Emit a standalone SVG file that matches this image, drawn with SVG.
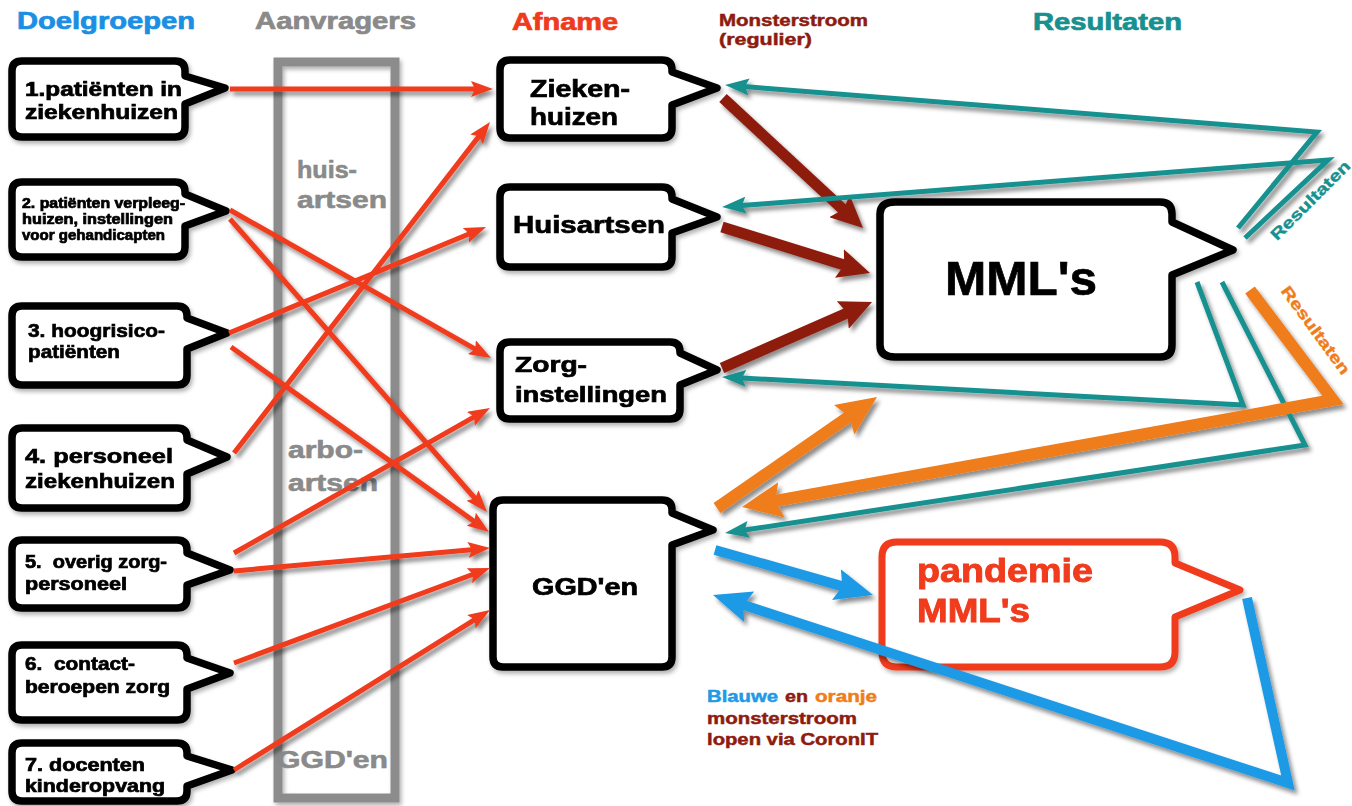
<svg xmlns="http://www.w3.org/2000/svg" width="1352" height="806" viewBox="0 0 1352 806">
<style>
text{font-family:"Liberation Sans",Arial,sans-serif;font-weight:bold}
.node{fill:#fff;stroke:#000;stroke-width:7.5;stroke-linejoin:round}
.nt{fill:#000;stroke:#000;stroke-width:0.7}
.hd{font-size:23px;stroke-width:0.7}
.gr{fill:#8a8a8a;stroke:#8a8a8a;stroke-width:0.6}
.red{stroke:#f03a1c;stroke-width:5;fill:none}
.dred{stroke:#8e1b10;stroke-width:11;fill:none}
.teal{stroke:#17918f;stroke-width:5;fill:none;stroke-linejoin:miter}
.orng{stroke:#ef7d1b;stroke-width:12;fill:none}
.blue{stroke:#1f9ae6;stroke-width:10;fill:none}
</style>
<defs>
<filter id="sh" filterUnits="userSpaceOnUse" x="0" y="0" width="1352" height="806">
<feDropShadow dx="3" dy="4" stdDeviation="2" flood-color="#000" flood-opacity="0.45"/>
</filter>
<filter id="sh2" filterUnits="userSpaceOnUse" x="0" y="0" width="1352" height="806">
<feDropShadow dx="2" dy="3" stdDeviation="2" flood-color="#000" flood-opacity="0.3"/>
</filter>
<marker id="aRed" markerUnits="userSpaceOnUse" viewBox="0 0 22 16" markerWidth="22" markerHeight="16" refX="12" refY="8" orient="auto"><path d="M0,0 L22,8 L0,16 L4,8 Z" fill="#f03a1c"/></marker>
<marker id="aTeal" markerUnits="userSpaceOnUse" viewBox="0 0 24 17" markerWidth="24" markerHeight="17" refX="14" refY="8.5" orient="auto"><path d="M0,0 L24,8.5 L0,17 L4,8.5 Z" fill="#17918f"/></marker>
<marker id="aDred" markerUnits="userSpaceOnUse" viewBox="0 0 32 30" markerWidth="32" markerHeight="30" refX="16" refY="15" orient="auto"><path d="M0,0 L32,15 L0,30 L5,15 Z" fill="#8e1b10"/></marker>
<marker id="aOrng" markerUnits="userSpaceOnUse" viewBox="0 0 40 36" markerWidth="40" markerHeight="36" refX="20" refY="18" orient="auto"><path d="M0,0 L40,18 L0,36 L6,18 Z" fill="#ef7d1b"/></marker>
<marker id="aBlue" markerUnits="userSpaceOnUse" viewBox="0 0 38 32" markerWidth="38" markerHeight="32" refX="20" refY="16" orient="auto"><path d="M0,0 L38,16 L0,32 L6,16 Z" fill="#1f9ae6"/></marker>
</defs>
<rect width="1352" height="806" fill="#fff"/>

<g id="headers">
<text class="hd" x="17" y="29" fill="#1a8fe3" stroke="#1a8fe3" textLength="178" lengthAdjust="spacingAndGlyphs">Doelgroepen</text>
<text class="hd" x="255" y="29" fill="#8a8a8a" stroke="#8a8a8a" textLength="161" lengthAdjust="spacingAndGlyphs">Aanvragers</text>
<text class="hd" x="512" y="30" fill="#f03a1c" stroke="#f03a1c" textLength="106" lengthAdjust="spacingAndGlyphs">Afname</text>
<text x="719" y="26" font-size="17" fill="#8e1b10" stroke="#8e1b10" stroke-width="0.5" textLength="149" lengthAdjust="spacingAndGlyphs">Monsterstroom</text>
<text x="719" y="45" font-size="17" fill="#8e1b10" stroke="#8e1b10" stroke-width="0.5" textLength="93" lengthAdjust="spacingAndGlyphs">(regulier)</text>
<text class="hd" x="1033" y="30" fill="#17918f" stroke="#17918f" textLength="149" lengthAdjust="spacingAndGlyphs">Resultaten</text>
</g>

<g id="aanvragers">
<rect x="278" y="62" width="117" height="736" fill="none" stroke="#8c8c8c" stroke-width="9" filter="url(#sh2)"/>
<text class="gr" x="297" y="178" font-size="23" textLength="60" lengthAdjust="spacingAndGlyphs">huis-</text>
<text class="gr" x="297" y="208" font-size="23" textLength="90" lengthAdjust="spacingAndGlyphs">artsen</text>
<text class="gr" x="288" y="458" font-size="23" textLength="75" lengthAdjust="spacingAndGlyphs">arbo-</text>
<text class="gr" x="288" y="491" font-size="23" textLength="90" lengthAdjust="spacingAndGlyphs">artsen</text>
<text class="gr" x="277" y="768" font-size="23" textLength="111" lengthAdjust="spacingAndGlyphs">GGD'en</text>
</g>

<g id="doel1" filter="url(#sh2)">
<path class="node" d="M22,61 H175 Q185,61 185,71 V76 L225,88 L185,104 V127 Q185,137 175,137 H22 Q12,137 12,127 V71 Q12,61 22,61 Z"/>
<text class="nt" x="25" y="96" font-size="20" textLength="157" lengthAdjust="spacingAndGlyphs">1.patiënten in</text>
<text class="nt" x="25" y="119" font-size="20" textLength="153" lengthAdjust="spacingAndGlyphs">ziekenhuizen</text>
</g>
<g id="doel2" filter="url(#sh2)">
<path class="node" d="M22,182 H175 Q185,182 185,192 V194 L226,211 L185,226 V247 Q185,257 175,257 H22 Q12,257 12,247 V192 Q12,182 22,182 Z"/>
<text class="nt" x="22" y="208" font-size="14" stroke-width="0.4" textLength="163" lengthAdjust="spacingAndGlyphs">2. patiënten verpleeg-</text>
<text class="nt" x="22" y="224" font-size="14" stroke-width="0.4" textLength="151" lengthAdjust="spacingAndGlyphs">huizen, instellingen</text>
<text class="nt" x="22" y="240" font-size="14" stroke-width="0.4" textLength="143" lengthAdjust="spacingAndGlyphs">voor gehandicapten</text>
</g>
<g id="doel3" filter="url(#sh2)">
<path class="node" d="M22,306 H177 Q187,306 187,316 V318 L227,333 L187,349 V375 Q187,385 177,385 H22 Q12,385 12,375 V316 Q12,306 22,306 Z"/>
<text class="nt" x="28" y="337" font-size="19" textLength="137" lengthAdjust="spacingAndGlyphs">3. hoogrisico-</text>
<text class="nt" x="28" y="358" font-size="19" textLength="92" lengthAdjust="spacingAndGlyphs">patiënten</text>
</g>
<g id="doel4" filter="url(#sh2)">
<path class="node" d="M22,428 H177 Q187,428 187,438 V440 L227,457 L187,474 V498 Q187,508 177,508 H22 Q12,508 12,498 V438 Q12,428 22,428 Z"/>
<text class="nt" x="25" y="463" font-size="21" textLength="148" lengthAdjust="spacingAndGlyphs">4. personeel</text>
<text class="nt" x="25" y="488" font-size="21" textLength="150" lengthAdjust="spacingAndGlyphs">ziekenhuizen</text>
</g>
<g id="doel5" filter="url(#sh2)">
<path class="node" d="M22,540 H177 Q187,540 187,550 V553 L230,570 L187,585 V598 Q187,608 177,608 H22 Q12,608 12,598 V550 Q12,540 22,540 Z"/>
<text class="nt" x="25" y="568" font-size="18" xml:space="preserve" textLength="142" lengthAdjust="spacingAndGlyphs">5.  overig zorg-</text>
<text class="nt" x="25" y="590" font-size="18" textLength="102" lengthAdjust="spacingAndGlyphs">personeel</text>
</g>
<g id="doel6" filter="url(#sh2)">
<path class="node" d="M22,645 H177 Q187,645 187,655 V658 L230,673 L187,689 V710 Q187,720 177,720 H22 Q12,720 12,710 V655 Q12,645 22,645 Z"/>
<text class="nt" x="25" y="670" font-size="18" xml:space="preserve" textLength="110" lengthAdjust="spacingAndGlyphs">6.  contact-</text>
<text class="nt" x="25" y="693" font-size="18" textLength="145" lengthAdjust="spacingAndGlyphs">beroepen zorg</text>
</g>
<g id="doel7" filter="url(#sh2)">
<path class="node" d="M22,743 H177 Q187,743 187,753 V756 L232,770 L187,786 V791 Q187,801 177,801 H22 Q12,801 12,791 V753 Q12,743 22,743 Z"/>
<text class="nt" x="25" y="771" font-size="18" textLength="120" lengthAdjust="spacingAndGlyphs">7. docenten</text>
<text class="nt" x="25" y="792" font-size="18" textLength="140" lengthAdjust="spacingAndGlyphs">kinderopvang</text>
</g>

<g id="afname-ziekenhuizen" filter="url(#sh2)">
<path class="node" d="M510,60 H662 Q672,60 672,70 V72 L717,88 L672,105 V128 Q672,138 662,138 H510 Q500,138 500,128 V70 Q500,60 510,60 Z"/>
<text class="nt" x="530" y="97" font-size="23" textLength="100" lengthAdjust="spacingAndGlyphs">Zieken-</text>
<text class="nt" x="530" y="125" font-size="23" textLength="88" lengthAdjust="spacingAndGlyphs">huizen</text>
</g>
<g id="afname-huisartsen" filter="url(#sh2)">
<path class="node" d="M510,187 H662 Q672,187 672,197 V199 L717,217 L672,233 V257 Q672,267 662,267 H510 Q500,267 500,257 V197 Q500,187 510,187 Z"/>
<text class="nt" x="513" y="233" font-size="23" textLength="152" lengthAdjust="spacingAndGlyphs">Huisartsen</text>
</g>
<g id="afname-zorginstellingen" filter="url(#sh2)">
<path class="node" d="M510,342 H670 Q680,342 680,352 V353 L717,370 L680,385 V409 Q680,419 670,419 H510 Q500,419 500,409 V352 Q500,342 510,342 Z"/>
<text class="nt" x="515" y="372" font-size="22" textLength="72" lengthAdjust="spacingAndGlyphs">Zorg-</text>
<text class="nt" x="515" y="402" font-size="22" textLength="152" lengthAdjust="spacingAndGlyphs">instellingen</text>
</g>
<g id="afname-ggden" filter="url(#sh2)">
<path class="node" d="M503,500 H662 Q672,500 672,510 V513 L713,530 L672,545 V657 Q672,667 662,667 H503 Q493,667 493,657 V510 Q493,500 503,500 Z"/>
<text class="nt" x="532" y="595" font-size="23" textLength="106" lengthAdjust="spacingAndGlyphs">GGD'en</text>
</g>

<g id="mmls" filter="url(#sh2)">
<path class="node" stroke-width="8" d="M895,202 H1160 Q1172,202 1172,214 V222 L1233,250 L1172,275 V345 Q1172,357 1160,357 H895 Q880,357 880,345 V214 Q880,202 895,202 Z"/>
<text class="nt" x="945" y="295" font-size="48" stroke-width="1.4" textLength="152" lengthAdjust="spacingAndGlyphs">MML's</text>
</g>
<g id="pandemie-mmls" filter="url(#sh2)">
<path d="M897,542 H1160 Q1175,542 1175,557 V563 L1240,590 L1175,617 V652 Q1175,667 1160,667 H897 Q882,667 882,652 V557 Q882,542 897,542 Z" fill="#fff" stroke="#f03a1c" stroke-width="7" stroke-linejoin="round"/>
<text x="917" y="582" font-size="33" fill="#f03a1c" stroke="#f03a1c" stroke-width="0.9" textLength="176" lengthAdjust="spacingAndGlyphs">pandemie</text>
<text x="917" y="622" font-size="33" fill="#f03a1c" stroke="#f03a1c" stroke-width="0.9" textLength="113" lengthAdjust="spacingAndGlyphs">MML's</text>
</g>

<g id="connectors" filter="url(#sh)">
<line class="red" x1="230" y1="89" x2="483" y2="89" marker-end="url(#aRed)"/>
<line class="red" x1="230" y1="210" x2="482.3" y2="353.1" marker-end="url(#aRed)"/>
<line class="red" x1="230" y1="219" x2="480.4" y2="504.5" marker-end="url(#aRed)"/>
<line class="red" x1="229" y1="333" x2="476.8" y2="230.8" marker-end="url(#aRed)"/>
<line class="red" x1="231" y1="347" x2="480.9" y2="526.2" marker-end="url(#aRed)"/>
<line class="red" x1="234" y1="453" x2="483.9" y2="129.9" marker-end="url(#aRed)"/>
<line class="red" x1="234" y1="553" x2="481.3" y2="412.9" marker-end="url(#aRed)"/>
<line class="red" x1="234" y1="571" x2="480" y2="548.9" marker-end="url(#aRed)"/>
<line class="red" x1="234" y1="663" x2="480.6" y2="571.5" marker-end="url(#aRed)"/>
<line class="red" x1="234" y1="770" x2="481.5" y2="615.3" marker-end="url(#aRed)"/>

<line class="dred" x1="723" y1="98" x2="851.3" y2="217.1" marker-end="url(#aDred)"/>
<line class="dred" x1="722" y1="227" x2="854.7" y2="268.2" marker-end="url(#aDred)"/>
<line class="dred" x1="722" y1="368" x2="857.4" y2="308.5" marker-end="url(#aDred)"/>

<polyline class="teal" points="1238,228 1317,132 735,85.8" marker-end="url(#aTeal)"/>
<polyline class="teal" points="1245,238 1328,160 732,206.2" marker-end="url(#aTeal)"/>
<polyline class="teal" points="1197,282 1243,405 732,377.5" marker-end="url(#aTeal)"/>
<polyline class="teal" points="1222,282 1305,445 734.9,531.5" marker-end="url(#aTeal)"/>

<line class="orng" x1="717" y1="508" x2="860.6" y2="408.4" marker-end="url(#aOrng)"/>
<polyline class="orng" stroke-width="11" points="1250,290 1333,400 761.7,503.4" marker-end="url(#aOrng)"/>

<line class="blue" x1="715" y1="550" x2="855.7" y2="590.1" marker-end="url(#aBlue)"/>
<polyline class="blue" stroke-width="9" points="1247,598 1288,783 730.1,600.6" marker-end="url(#aBlue)"/>
</g>

<g id="labels">
<text x="1310" y="206" font-size="16" fill="#17918f" stroke="#17918f" stroke-width="0.4" text-anchor="middle" transform="rotate(-45 1310 200)" textLength="105" lengthAdjust="spacingAndGlyphs">Resultaten</text>
<text x="1316" y="336" font-size="16" fill="#ef7d1b" stroke="#ef7d1b" stroke-width="0.4" text-anchor="middle" transform="rotate(54 1316 330)" textLength="105" lengthAdjust="spacingAndGlyphs">Resultaten</text>
<text x="707" y="702" font-size="17" fill="#1f9ae6" stroke="#1f9ae6" stroke-width="0.5" textLength="71" lengthAdjust="spacingAndGlyphs">Blauwe</text>
<text x="785" y="702" font-size="17" fill="#8e1b10" stroke="#8e1b10" stroke-width="0.5" textLength="23" lengthAdjust="spacingAndGlyphs">en</text>
<text x="815" y="702" font-size="17" fill="#ef7d1b" stroke="#ef7d1b" stroke-width="0.5" textLength="62" lengthAdjust="spacingAndGlyphs">oranje</text>
<text x="707" y="724" font-size="17" fill="#8e1b10" stroke="#8e1b10" stroke-width="0.5" textLength="150" lengthAdjust="spacingAndGlyphs">monsterstroom</text>
<text x="707" y="745" font-size="17" fill="#8e1b10" stroke="#8e1b10" stroke-width="0.5" textLength="171" lengthAdjust="spacingAndGlyphs">lopen via CoronIT</text>
</g>
</svg>
